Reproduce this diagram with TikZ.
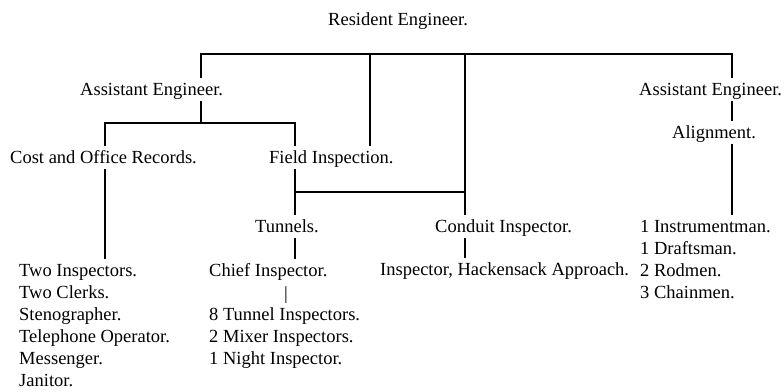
\documentclass[tikz,border=0pt]{standalone}
\usepackage{fontspec}
\setmainfont{Liberation Serif}
\usetikzlibrary{positioning}

\begin{document}
\begin{tikzpicture}[
    x=1pt, y=-1pt,
    font=\fontsize{18.5}{22}\selectfont,
    post/.style={
        anchor=base west,
        inner xsep=0pt,
        inner ysep=3pt,
        text height=14pt,
        text depth=3pt
    },
    staff/.style={
        anchor=north west,
        align=left,
        inner xsep=0pt,
        inner ysep=3pt
    },
    link/.style={line width=2pt, line join=miter}
]
\useasboundingbox (0,0) rectangle (784,391);

% Nodes
\node (res) [post] at (328,25) {Resident Engineer.};

\node (ae1) [post] at (80,95) {Assistant Engineer.};
\node (ae2) [post] at (639,95) {Assistant Engineer.};

\node (cost) [post] at (10,163) {Cost and Office Records.};
\node (field) [post] at (269,163) {Field Inspection.};
\node (align) [post] at (672,138) {Alignment.};

\node (tunnels) [post] at (255,232) {Tunnels.};
\node (conduit) [post] at (435,232) {Conduit Inspector.};
\node (hack) [post] at (380,275) {Inspector, Hackensack Approach.};
\node (chief) [post] at (209,276) {Chief Inspector.};
\node (tick) [anchor=base, inner sep=0pt] at (286,299) {|};

\node (ostaff) [staff] at (19,259)
{\rule{0pt}{14pt}Two Inspectors.\\
Two Clerks.\\
Stenographer.\\
Telephone Operator.\\
Messenger.\\
Janitor.};

\node (tcrew) [staff] at (209,303)
{\rule{0pt}{14pt}8 Tunnel Inspectors.\\
2 Mixer Inspectors.\\
1 Night Inspector.};

\node (acrew) [staff] at (640,215)
{\rule{0pt}{14pt}1 Instrumentman.\\
1 Draftsman.\\
2 Rodmen.\\
3 Chainmen.};

% Junctions
\coordinate (barL) at (201,54);
\coordinate (barM) at (370,54);
\coordinate (barC) at (465,54);
\coordinate (barR) at (732,54);
\coordinate (split) at (201,123);
\coordinate (costdrop) at (105,123);
\coordinate (fielddrop) at (295,123);
\coordinate (tie) at (465,192);

% Lines
\draw [link] (ae1.north -| barL) -- (barL) -- (barR) -- (ae2.north -| barR);
\draw [link] (barM) -- (field.north -| barM);
\draw [link] (barC) -- (conduit.north -| barC);

\draw [link] (ae1.south -| split) -- (split);
\draw [link] (cost.north -| costdrop) -- (costdrop) -- (fielddrop) -- (field.north -| fielddrop);
\draw [link] (cost.south -| costdrop) -- (ostaff.north -| costdrop);

\draw [link] (field.south -| fielddrop) -- (tunnels.north -| fielddrop);
\draw [link] (fielddrop |- tie) -- (tie);
\draw [link] (tunnels.south -| fielddrop) -- (chief.north -| fielddrop);

\draw [link] (conduit.south -| barC) -- (hack.north -| barC);

\draw [link] (ae2.south -| barR) -- (align.north -| barR);
\draw [link] (align.south -| barR) -- (acrew.north -| barR);

\end{tikzpicture}
\end{document}
